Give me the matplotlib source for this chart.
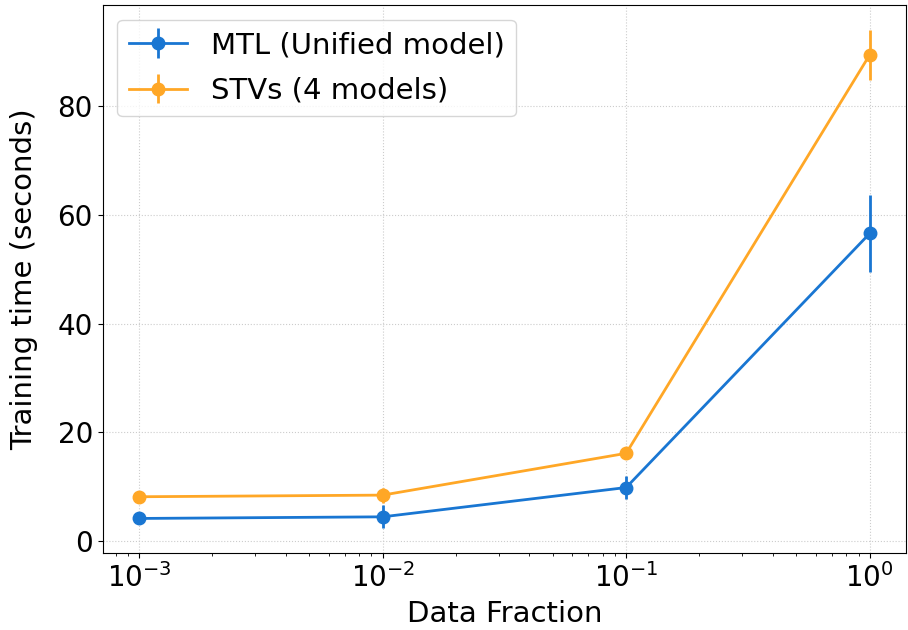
import numpy as np
import matplotlib.pyplot as plt

fractions = [1e-3, 1e-2, 1e-1, 1e0]
mtl_mean = [4.1, 4.4, 9.8, 56.6]
mtl_err = [1.0, 2.1, 2.1, 7.1]
stv_mean = [8.1, 8.4, 16.1, 89.5]
stv_err = [0.5, 1.4, 0.5, 4.6]

fig, ax = plt.subplots(figsize=(9.08, 6.3), dpi=100)

ax.errorbar(fractions, mtl_mean, yerr=mtl_err, fmt='-o', color='#1976D2',
            lw=2, ms=9, elinewidth=2, label='MTL (Unified model)')
ax.errorbar(fractions, stv_mean, yerr=stv_err, fmt='-o', color='#FFA726',
            lw=2, ms=9, elinewidth=2, label='STVs (4 models)')

ax.set_xscale('log')
ax.set_xlabel('Data Fraction', fontsize=21, labelpad=5)
ax.set_ylabel('Training time (seconds)', fontsize=21, labelpad=14)
ax.tick_params(labelsize=20)
ax.grid(True, linestyle=':', color='#cccccc')
ax.legend(fontsize=21, loc='upper left', labelspacing=0.6)

fig.subplots_adjust(left=0.113, right=0.998, top=0.992, bottom=0.122)
fig.savefig('out.png')
